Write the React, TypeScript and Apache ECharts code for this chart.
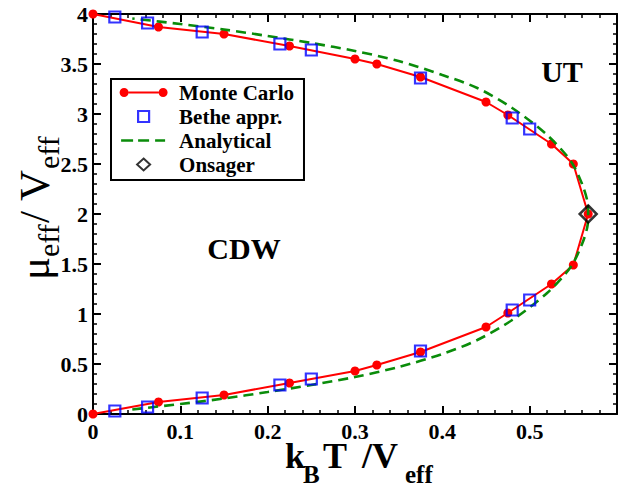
import React, { useEffect, useRef } from 'react';
import * as echarts from 'echarts';

const FONT = 'Liberation Serif';

// Monte Carlo: lower branch (increasing T) then upper branch (decreasing T)
const mcLower: [number, number][] = [
  [0, 0], [0.075, 0.12], [0.15, 0.19], [0.225, 0.31], [0.3, 0.43], [0.325, 0.49],
  [0.375, 0.62], [0.45, 0.87], [0.475, 1.01], [0.525, 1.30], [0.55, 1.49], [0.567, 2.0],
];
const mcUpper: [number, number][] = [
  [0.55, 2.5], [0.525, 2.70], [0.475, 2.99], [0.45, 3.12], [0.375, 3.37], [0.325, 3.50],
  [0.3, 3.55], [0.225, 3.68], [0.15, 3.80], [0.075, 3.87], [0, 4.0],
];

// Bethe approximation
const betheLower: [number, number][] = [
  [0.025, 0.03], [0.0625, 0.07], [0.125, 0.16], [0.214, 0.29], [0.25, 0.35],
  [0.375, 0.63], [0.48, 1.04], [0.5, 1.14],
];
const betheUpper: [number, number][] = [
  [0.025, 3.97], [0.0625, 3.91], [0.125, 3.82], [0.214, 3.70], [0.25, 3.64],
  [0.375, 3.36], [0.48, 2.96], [0.5, 2.85],
];

// Analytical curve
const analyticalLower: [number, number][] = [
  [0.045, 0.045], [0.1, 0.10], [0.15, 0.155], [0.2, 0.22], [0.25, 0.29], [0.3, 0.37],
  [0.35, 0.47], [0.4, 0.60], [0.44, 0.74], [0.48, 0.94], [0.52, 1.21],
  [0.547, 1.47], [0.56, 1.70], [0.566, 1.87], [0.567, 2.0],
];
const analyticalUpper: [number, number][] = [
  [0.566, 2.13], [0.56, 2.30], [0.547, 2.53], [0.52, 2.79], [0.48, 3.06], [0.44, 3.26],
  [0.4, 3.39], [0.35, 3.53], [0.3, 3.63], [0.25, 3.71], [0.2, 3.78], [0.15, 3.845],
  [0.1, 3.90], [0.045, 3.955],
];

// Onsager point
const onsager: [number, number][] = [[0.567, 2.0]];

const seriesNames = ['Monte Carlo', 'Bethe appr.', 'Analytical', 'Onsager'];
const xTickLabels = ['0', '0.1', '0.2', '0.3', '0.4', '0.5'];
const yTickLabels = ['0', '0.5', '1', '1.5', '2', '2.5', '3', '3.5', '4'];
const phaseLabels = ['UT', 'CDW'];

const RED = '#ff0000';
const BLUE = '#0000ff';
const GREEN = '#0a8c0a';

export default function App() {
  const ref = useRef<HTMLDivElement>(null);

  useEffect(() => {
    if (!ref.current) return;
    const chart = echarts.init(ref.current, null, { renderer: 'svg', width: 627, height: 486 });

    const tickLabelStyle = {
      fontFamily: FONT,
      fontWeight: 'bold' as const,
      fontSize: 22,
      color: '#000',
    };

    const baseX = {
      type: 'value' as const,
      min: 0,
      max: 0.6,
      interval: 0.1,
      splitLine: { show: false },
      axisLine: { show: true, onZero: false, lineStyle: { color: '#000', width: 2 } },
      axisTick: { show: true, inside: true, length: 8, lineStyle: { color: '#000', width: 2 } },
      minorTick: { show: true, splitNumber: 5, length: 4, lineStyle: { color: '#000', width: 1.5 } },
    };
    const baseY = {
      type: 'value' as const,
      min: 0,
      max: 4,
      interval: 0.5,
      splitLine: { show: false },
      axisLine: { show: true, onZero: false, lineStyle: { color: '#000', width: 2 } },
      axisTick: { show: true, inside: true, length: 8, lineStyle: { color: '#000', width: 2 } },
      minorTick: { show: true, splitNumber: 5, length: 4, lineStyle: { color: '#000', width: 1.5 } },
    };

    const box = 'M0,0M58,12';
    const mcIcon = `path://${box}M3.5,6a4.5,4.5 0 1,0 9,0a4.5,4.5 0 1,0 -9,0ZM42.5,6a4.5,4.5 0 1,0 9,0a4.5,4.5 0 1,0 -9,0ZM12.5,5H42.5V7H12.5Z`;
    const betheIcon = `path://${box}M22,0.5H33V11.5H22Z`;
    const anIcon = `path://${box}M5,4.75H17V7.25H5ZM22,4.75H33V7.25H22ZM39,4.75H49V7.25H39Z`;
    const onsIcon = `path://${box}M27.5,0L34,6L27.5,12L21,6Z`;

    const txt = (text: string, x: number, y: number, size: number, weight: string) => ({
      type: 'text',
      x,
      y,
      style: {
        text,
        fontFamily: FONT,
        fontWeight: weight,
        fontSize: size,
        fill: '#000',
        align: 'left',
        verticalAlign: 'middle',
      },
    });

    chart.setOption({
      animation: false,
      backgroundColor: '#fff',
      grid: { left: 93, right: 10, top: 14, bottom: 72, containLabel: false },
      xAxis: [
        {
          ...baseX,
          position: 'bottom',
          axisLabel: {
            ...tickLabelStyle,
            margin: 6,
            formatter: (v: number) => xTickLabels[Math.round(v / 0.1)] ?? '',
          },
        },
        { ...baseX, position: 'top', axisLabel: { show: false } },
      ],
      yAxis: [
        {
          ...baseY,
          position: 'left',
          axisLabel: {
            ...tickLabelStyle,
            margin: 5,
            formatter: (v: number) => yTickLabels[Math.round(v / 0.5)] ?? '',
          },
        },
        { ...baseY, position: 'right', axisLabel: { show: false } },
      ],
      legend: {
        orient: 'vertical',
        left: 111,
        top: 79,
        padding: [3, 10, 5, 4],
        itemGap: 3,
        itemWidth: 58,
        itemHeight: 12,
        borderColor: '#000',
        borderWidth: 2,
        backgroundColor: '#fff',
        borderRadius: 0,
        selectedMode: false,
        textStyle: { fontFamily: FONT, fontWeight: 'bold', fontSize: 21, lineHeight: 21, color: '#000' },
        data: [
          { name: seriesNames[0], icon: mcIcon, itemStyle: { color: RED, borderWidth: 0 } },
          { name: seriesNames[1], icon: betheIcon, itemStyle: { color: 'transparent', borderColor: BLUE, borderWidth: 2.2 } },
          { name: seriesNames[2], icon: anIcon, itemStyle: { color: GREEN, borderWidth: 0 } },
          { name: seriesNames[3], icon: onsIcon, itemStyle: { color: 'transparent', borderColor: '#000', borderWidth: 2 } },
        ],
      },
      series: [
        {
          name: seriesNames[0],
          type: 'line',
          data: [...mcLower, ...mcUpper],
          symbol: 'circle',
          symbolSize: 9,
          clip: false,
          itemStyle: { color: RED },
          lineStyle: { color: RED, width: 2 },
          z: 2,
        },
        {
          name: seriesNames[2],
          type: 'line',
          data: [...analyticalLower, ...analyticalUpper],
          symbol: 'none',
          smooth: 0.3,
          clip: false,
          itemStyle: { color: GREEN },
          lineStyle: { color: GREEN, width: 2.6, type: [10, 6] },
          z: 3,
        },
        {
          name: seriesNames[1],
          type: 'scatter',
          data: [...betheLower, ...betheUpper],
          symbol: 'rect',
          symbolSize: 11,
          clip: false,
          itemStyle: { color: 'transparent', borderColor: BLUE, borderWidth: 2.2 },
          z: 4,
        },
        {
          name: seriesNames[3],
          type: 'scatter',
          data: onsager,
          symbol: 'diamond',
          symbolSize: [17, 17],
          clip: false,
          itemStyle: { color: 'transparent', borderColor: '#000', borderWidth: 2.5 },
          z: 5,
        },
      ],
      graphic: [
        {
          type: 'text',
          x: 562,
          y: 71,
          style: {
            text: phaseLabels[0],
            fontFamily: FONT, fontWeight: 'bold', fontSize: 30, fill: '#000',
            align: 'center', verticalAlign: 'middle',
          },
        },
        {
          type: 'text',
          x: 244,
          y: 248,
          style: {
            text: phaseLabels[1],
            fontFamily: FONT, fontWeight: 'bold', fontSize: 30, fill: '#000',
            align: 'center', verticalAlign: 'middle',
          },
        },
        // x-axis title: k_B T /V_eff
        txt('k', 285, 456, 36, 'bold'),
        txt('B', 303, 474, 25, 'bold'),
        txt('T', 323, 456, 36, 'bold'),
        txt('/V', 362, 456, 36, 'bold'),
        txt('eff', 405, 474, 25, 'bold'),
        // y-axis title: μ_eff / V_eff (rotated)
        {
          type: 'group',
          x: 34,
          y: 280,
          rotation: Math.PI / 2,
          children: [
            txt('μ', 0, 0, 43, 'normal'),
            txt('eff', 23, 14, 30, 'normal'),
            txt('/ V', 57, 0, 43, 'normal'),
            txt('eff', 111, 14, 30, 'normal'),
          ],
        },
      ],
    });

    return () => chart.dispose();
  }, []);

  return (
    <div
      ref={ref}
      style={{ position: 'absolute', left: 0, top: 0, width: 627, height: 486, background: '#fff' }}
    />
  );
}
